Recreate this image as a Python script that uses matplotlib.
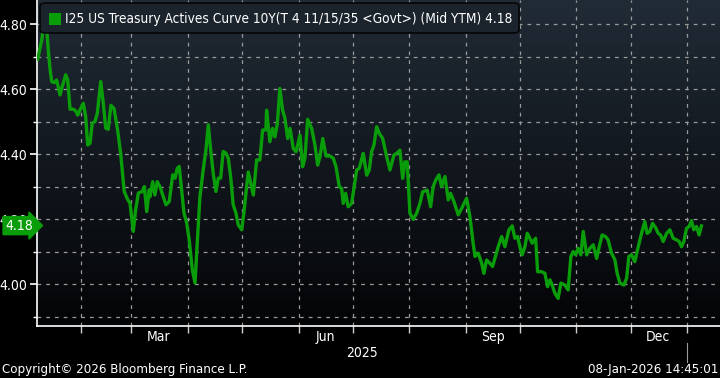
import matplotlib
matplotlib.use("Agg")
import matplotlib.pyplot as plt
import numpy as np
import pandas as pd
from matplotlib.patches import FancyBboxPatch, Rectangle

# =========================
# DATOS
# =========================
fecha_inicio = "2025-01-08"

# días transcurridos desde fecha_inicio
dias = [
    0.4, 2.6, 3.5, 5.3, 6.2, 7.2, 8.1, 9.5, 10.8, 12.7, 13.9, 15.8, 16.9, 18.2,
    20.0, 21.3, 22.4, 23.7, 25.5, 26.8, 27.9, 29.2, 30.4, 31.9, 33.2, 35.1,
    36.5, 37.8, 39.2, 40.7, 42.4, 44.4, 46.1, 48.0, 49.9, 51.2, 53.0, 54.3,
    55.8, 58.0, 59.1, 60.4, 61.8, 62.2, 63.7, 64.9, 66.2, 67.7, 69.2, 71.0,
    72.8, 74.7, 76.0, 77.2, 78.3, 79.6, 80.9, 82.4, 83.8, 85.5, 87.0, 88.2,
    89.7, 91.5, 93.0, 94.3, 95.6, 97.0, 98.5, 99.8, 101.1, 102.5, 104.0,
    105.3, 106.6, 108.0, 109.5, 110.8, 112.7, 113.9, 115.4, 116.3, 119.1,
    120.9, 122.7, 124.2, 126.0, 126.4, 128.2, 129.7, 131.0, 132.3, 133.7,
    135.2, 136.5, 138.0, 139.3, 141.1, 142.6, 144.8, 146.2, 147.5, 149.0,
    151.2, 153.0, 154.5, 155.8, 157.3, 159.1, 161.3, 163.1, 164.6, 166.4,
    167.7, 168.6, 169.9, 171.3, 173.2, 176.0, 177.4, 179.6, 181.5, 182.9,
    184.2, 185.5, 187.0, 188.4, 190.3, 192.5, 194.3, 196.5, 198.0, 199.8,
    201.3, 202.5, 203.8, 205.3, 207.1, 209.0, 210.8, 212.3, 214.8, 216.7,
    218.1, 219.6, 221.3, 222.7, 224.6, 226.4, 227.7, 229.5, 231.9, 233.8,
    236.5, 238.3, 240.1, 241.1, 242.9, 244.8, 246.0, 247.5, 249.3, 250.8,
    252.1, 253.9, 255.8, 257.6, 259.8, 261.6, 263.1, 264.6, 265.8, 267.1,
    268.6, 269.9, 271.3, 272.6, 274.5, 275.6, 277.8, 279.6, 281.1, 282.4,
    283.6, 285.1, 286.9, 288.4, 290.6, 292.4, 293.9, 295.2, 296.5, 297.9,
    299.4, 300.7, 302.6, 304.4, 306.2, 308.1, 309.5, 311.1, 313.0, 314.4,
    316.3, 318.1, 319.4, 320.9, 323.1, 324.6, 325.8, 327.3, 329.1, 331.0,
    332.8, 334.6, 335.9, 337.4, 338.9, 340.7, 342.0, 343.3, 344.7, 346.6,
    348.4, 350.2, 352.1, 353.5, 354.8, 356.1, 357.6, 359.0, 360.3, 361.6,
    363.1, 364.5, 365.8,
]

rendimiento = [
    4.692, 4.751, 4.787, 4.790, 4.720, 4.660, 4.623, 4.620, 4.628, 4.582,
    4.608, 4.644, 4.628, 4.538, 4.538, 4.533, 4.520, 4.536, 4.556, 4.515,
    4.428, 4.433, 4.495, 4.500, 4.526, 4.623, 4.556, 4.480, 4.476, 4.550,
    4.540, 4.473, 4.400, 4.285, 4.260, 4.249, 4.162, 4.228, 4.280, 4.285,
    4.300, 4.223, 4.290, 4.269, 4.315, 4.274, 4.315, 4.300, 4.274, 4.244,
    4.254, 4.336, 4.326, 4.356, 4.362, 4.290, 4.219, 4.188, 4.136, 4.044,
    4.003, 4.126, 4.269, 4.351, 4.413, 4.490, 4.413, 4.341, 4.285, 4.326,
    4.326, 4.408, 4.403, 4.387, 4.331, 4.244, 4.219, 4.182, 4.167, 4.219,
    4.300, 4.345, 4.274, 4.382, 4.382, 4.474, 4.474, 4.535, 4.438, 4.479,
    4.453, 4.494, 4.602, 4.535, 4.510, 4.448, 4.479, 4.417, 4.407, 4.458,
    4.361, 4.387, 4.507, 4.479, 4.428, 4.366, 4.392, 4.448, 4.394, 4.394,
    4.387, 4.361, 4.300, 4.294, 4.248, 4.279, 4.238, 4.248, 4.351, 4.356,
    4.402, 4.335, 4.351, 4.407, 4.428, 4.484, 4.464, 4.448, 4.392, 4.351,
    4.397, 4.402, 4.412, 4.325, 4.376, 4.376, 4.218, 4.199, 4.218, 4.248,
    4.284, 4.289, 4.238, 4.300, 4.321, 4.336, 4.300, 4.331, 4.259, 4.279,
    4.254, 4.213, 4.233, 4.264, 4.208, 4.126, 4.085, 4.095, 4.064, 4.033,
    4.074, 4.064, 4.054, 4.080, 4.115, 4.146, 4.115, 4.167, 4.179, 4.141,
    4.146, 4.115, 4.090, 4.115, 4.156, 4.141, 4.126, 4.141, 4.038, 4.038,
    4.033, 3.992, 4.013, 3.997, 3.972, 3.956, 4.003, 3.997, 3.982, 4.085,
    4.100, 4.090, 4.110, 4.090, 4.162, 4.090, 4.110, 4.121, 4.079, 4.115,
    4.151, 4.146, 4.136, 4.095, 4.075, 4.033, 4.003, 3.997, 4.018, 4.085,
    4.090, 4.069, 4.115, 4.156, 4.192, 4.156, 4.162, 4.187, 4.172, 4.156,
    4.151, 4.131, 4.156, 4.167, 4.141, 4.136, 4.131, 4.115, 4.131, 4.172,
    4.177, 4.195, 4.167, 4.177, 4.151, 4.179,
]

etiquetas_y = ["4.00", "4.20", "4.40", "4.60", "4.80"]
meses_etiqueta = ["Mar", "Jun", "Sep", "Dec"]
titulo_serie = "I25 US Treasury Actives Curve 10Y(T 4 11/15/35 <Govt>) (Mid YTM) 4.18"
ultimo_valor = "4.18"

# =========================
# ESTILO
# =========================
VERDE = "#0a9d0a"
GRIS_GRID = "#9a9a9a"
plt.rcParams["font.family"] = ["DejaVu Sans"]
plt.rcParams["font.stretch"] = "condensed"

fechas = pd.Timestamp(fecha_inicio) + pd.to_timedelta(dias, unit="D")

fig = plt.figure(figsize=(7.2, 3.78), dpi=100, facecolor="black")
ax = fig.add_axes([37 / 720, 52 / 378, 683 / 720, 326 / 378])
ax.set_facecolor("black")

x_min = pd.Timestamp(fecha_inicio)
x_max = x_min + pd.Timedelta(days=376)
ax.set_xlim(x_min, x_max)
ax.set_ylim(3.871, 4.874)

# fondo degradado
grad = np.linspace(0, 1, 256).reshape(-1, 1)
arriba = np.array([0x21, 0x2b, 0x36]) / 255
abajo = np.array([0x03, 0x04, 0x06]) / 255
colores = abajo + grad[..., None] * (arriba - abajo)
ax.imshow(colores, extent=[0, 1, 0, 1], transform=ax.transAxes,
          aspect="auto", origin="lower", zorder=0)

# línea
ax.plot(fechas, rendimiento, color=VERDE, lw=2.4, zorder=3,
        solid_joinstyle="round")

# ejes
for lado in ["top", "right"]:
    ax.spines[lado].set_visible(False)
for lado in ["left", "bottom"]:
    ax.spines[lado].set_color("white")
    ax.spines[lado].set_linewidth(1.2)

ax.set_yticks([float(t) for t in etiquetas_y])
ax.set_yticklabels(etiquetas_y)
ax.set_yticks(np.arange(3.9, 4.85, 0.1), minor=True)
ax.tick_params(axis="y", which="major", colors="white", labelsize=10,
               length=5, width=1.2, pad=2)
ax.tick_params(axis="y", which="minor", colors="white", length=3, width=1)

inicios_mes = pd.date_range("2025-02-01", "2026-01-01", freq="MS")
ax.set_xticks(inicios_mes)
ax.set_xticklabels([""] * len(inicios_mes))
ax.tick_params(axis="x", which="major", colors="#cfcfcf", length=5, width=1)
centros = [pd.Timestamp(f"2025-{m}-16") for m in ["03", "06", "09", "12"]]
ax.set_xticks(centros, minor=True)
ax.set_xticklabels(meses_etiqueta, minor=True)
ax.tick_params(axis="x", which="minor", colors="white", length=0,
               labelsize=10, pad=3)

ax.grid(True, which="both", axis="y", color=GRIS_GRID, lw=0.9,
        linestyle=(0, (3, 4)), zorder=1)
ax.grid(True, which="major", axis="x", color=GRIS_GRID, lw=0.9,
        linestyle=(0, (3, 4)), zorder=1)

# leyenda
caja = FancyBboxPatch((40 / 720, 1 - 33 / 378), 479 / 720, 30 / 378,
                      boxstyle="round,pad=0,rounding_size=0.008",
                      transform=fig.transFigure, facecolor="#1b232c",
                      edgecolor="#050505", lw=1.2, zorder=5)
fig.add_artist(caja)
fig.add_artist(Rectangle((49 / 720, 1 - 25 / 378), 12 / 720, 12 / 378,
                         transform=fig.transFigure, facecolor=VERDE,
                         edgecolor="none", zorder=6))
fig.text(65 / 720, 1 - 19 / 378, titulo_serie, color="white", fontsize=9.8,
         va="center", ha="left", zorder=7)

# etiqueta último valor
ax.text(-0.006, 4.18, ultimo_valor, transform=ax.get_yaxis_transform(),
        ha="right", va="center", color="white", fontsize=10, zorder=8,
        bbox=dict(boxstyle="rarrow,pad=0.15", facecolor=VERDE,
                  edgecolor=VERDE), clip_on=False)

# textos inferiores
fig.text(362 / 720, 1 - 353 / 378, "2025", color="white", fontsize=10,
         ha="center", va="center")
fig.add_artist(plt.Line2D([687 / 720, 687 / 720], [1 - 343 / 378, 1 - 362 / 378],
                          transform=fig.transFigure, color="#9a9a9a", lw=0.8))
fig.text(2 / 720, 1 - 370 / 378, "Copyright\u00a9 2026 Bloomberg Finance L.P.",
         color="white", fontsize=9.5, ha="left", va="center")
fig.text(718 / 720, 1 - 370 / 378, "08-Jan-2026 14:45:01",
         color="white", fontsize=9.5, ha="right", va="center")

fig.savefig("out.png", dpi=100, facecolor="black")
